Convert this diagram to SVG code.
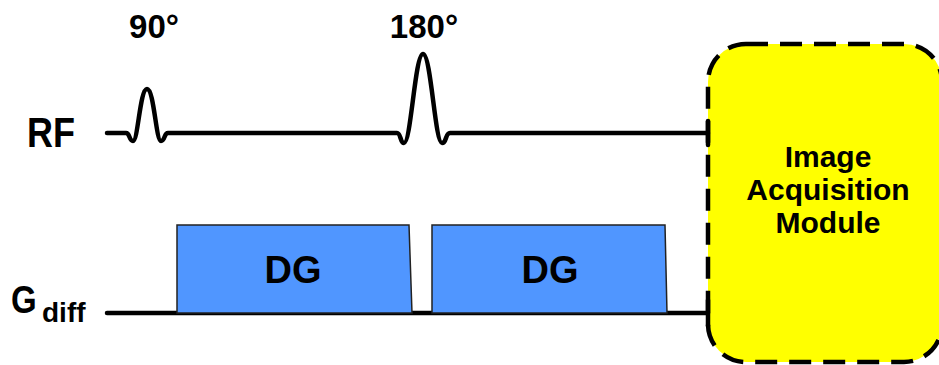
<svg xmlns="http://www.w3.org/2000/svg" width="939" height="365" viewBox="0 0 939 365">
  <style>
    .lbl { font-family: "Liberation Sans", Arial, sans-serif; font-weight: bold; fill: #000; }
    .wave { fill: none; stroke: #000; stroke-width: 4.5; stroke-linejoin: round; stroke-linecap: round; }
    .dg { fill: #5096FF; stroke: #222; stroke-width: 1.5; }
    .mod { fill: #FFFF00; stroke: #000; stroke-width: 4.5; stroke-dasharray: 22 12; }
  </style>
  <rect width="939" height="365" fill="#fff"/>

  <g id="module">
    <rect class="mod" x="708" y="44" width="234" height="318" rx="38" ry="38"/>
    <text class="lbl" x="828" y="167" font-size="30" text-anchor="middle">Image</text>
    <text class="lbl" x="828" y="200" font-size="30" text-anchor="middle">Acquisition</text>
    <text class="lbl" x="828" y="233" font-size="30" text-anchor="middle">Module</text>
  </g>

  <g id="connectors">
    <path id="rf-line" class="wave" d="M107,133 L126,133 C130,133 129,141 133,141 C138,141 140,89 147,89 C154,89 156,141 161,141 C165,141 164,133 168,133 L397,133 C401,133 400,143 404,143 C411,143 415,54 423,54 C431,54 435,143 442,143 C447,143 445,133 450,133 L708,133"/>
    <line class="wave" x1="708" y1="121" x2="708" y2="145" stroke-linecap="butt"/>
    <line id="g-line" class="wave" x1="107" y1="313" x2="708" y2="313" stroke-linecap="butt"/>
    <line class="wave" x1="708" y1="300" x2="708" y2="326" stroke-linecap="butt"/>
  </g>

  <g id="dg1">
    <polygon class="dg" points="177,313 177,225 409,225 412,313"/>
    <text class="lbl" x="293" y="283" font-size="38" text-anchor="middle">DG</text>
  </g>
  <g id="dg2">
    <polygon class="dg" points="432,313 432,225 665,225 667,313"/>
    <text class="lbl" x="550" y="283" font-size="38" text-anchor="middle">DG</text>
  </g>

  <g id="labels">
    <text class="lbl" x="154" y="38" font-size="33" text-anchor="middle">90°</text>
    <text class="lbl" x="424" y="38" font-size="33" text-anchor="middle">180°</text>
    <text class="lbl" transform="translate(27,147) scale(1,1.17)" font-size="36">RF</text>
    <text class="lbl" transform="translate(11,313) scale(1,1.17)" font-size="33">G</text>
    <text class="lbl" x="42" y="322" font-size="28">diff</text>
  </g>
</svg>
